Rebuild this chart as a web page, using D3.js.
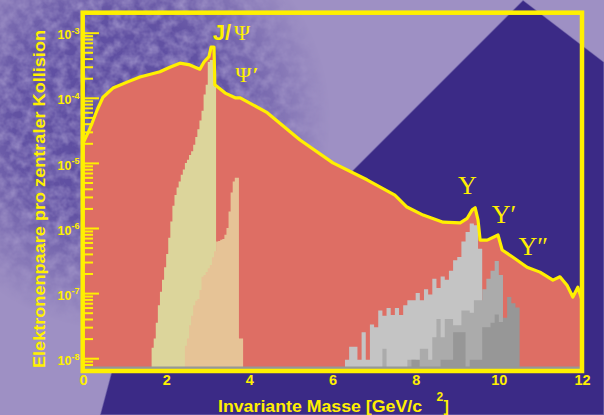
<!DOCTYPE html>
<html><head><meta charset="utf-8">
<script src="https://cdn.jsdelivr.net/npm/d3@7"></script>
<style>html,body{margin:0;padding:0;background:#9E90C4;} svg{display:block;}</style>
</head><body>
<svg id="chart" width="604" height="415"></svg>
<script>
// ---------- data ----------
const totalMass = [0.0,0.12,0.22,0.34,0.48,0.72,1.06,1.37,1.85,2.09,2.33,2.57,2.81,2.91,3.03,3.08,3.15,3.17,3.42,3.66,3.78,4.43,5.22,6.01,6.83,7.50,7.79,8.18,8.66,9.07,9.24,9.36,9.43,9.50,9.55,9.72,9.98,10.08,10.34,10.68,10.99,11.30,11.47,11.64,11.78,11.90,12.0];
const totalValue = [2.0e-5,2.9e-5,4.1e-5,6.5e-5,1.02e-4,1.41e-4,1.74e-4,2.09e-4,2.51e-4,2.95e-4,3.4e-4,3.2e-4,2.75e-4,3.55e-4,4.3e-4,6.0e-4,6.0e-4,1.58e-4,1.18e-4,1.0e-4,1.0e-4,5.9e-5,2.25e-5,1.0e-5,5.5e-6,3.2e-6,2.1e-6,1.58e-6,1.23e-6,1.2e-6,1.41e-6,1.9e-6,2.05e-6,1.32e-6,6.5e-7,6.5e-7,7.8e-7,4.6e-7,3.55e-7,2.5e-7,2.1e-7,1.58e-7,1.78e-7,1.32e-7,8.7e-8,1.23e-7,7.8e-8];

const psiBinWidth = 0.05;
const jpsiStart = 1.65;
const jpsiValues = [1.45e-8,2.0e-8,3.5e-8,6.5e-8,1.05e-7,1.6e-7,2.5e-7,4.0e-7,7.1e-7,1.26e-6,2.2e-6,3.2e-6,4.2e-6,5.2e-6,6.6e-6,7.9e-6,1.0e-5,1.12e-5,1.32e-5,1.51e-5,1.9e-5,2.5e-5,3.3e-5,4.5e-5,6.3e-5,1.12e-4,1.58e-4,3.55e-4,3.8e-4,3.8e-4,1.5e-4];
const psiPrimeStart = 2.45;
const psiPrimeValues = [1.55e-8,2.0e-8,3.2e-8,4.5e-8,6.5e-8,7.6e-8,8.1e-8,1.12e-7,1.78e-7,1.9e-7,2.1e-7,2.4e-7,2.7e-7,3.55e-7,4.4e-7,6.2e-7,6.3e-7,6.6e-7,6.8e-7,7.9e-7,1.0e-6,1.8e-6,3.5e-6,5.2e-6,5.9e-6,5.9e-6,2.0e-8,2.0e-8];

const upsBinWidth = 0.1;
const ups1Start = 6.3;
const ups1Values = [9.5e-9,1.5e-8,1.5e-8,9.5e-9,2.5e-8,9.5e-9,3.3e-8,3.0e-8,5.4e-8,4.5e-8,5.9e-8,4.6e-8,5.9e-8,4.6e-8,6.5e-8,7.8e-8,7.8e-8,1.0e-7,7.8e-8,1.15e-7,9.5e-8,1.66e-7,1.2e-7,1.8e-7,1.6e-7,2.2e-7,3.2e-7,3.6e-7,6.2e-7,8.7e-7,1.17e-6,1.1e-6,4.8e-7];
const ups2Start = 7.2;
const ups2Values = [1.4e-8,0,0,0,0,0,9.5e-9,9.5e-9,0,1.4e-8,1.4e-8,9.5e-9,2.1e-8,4.0e-8,2.1e-8,4.0e-8,4.0e-8,3.2e-8,3.2e-8,5.4e-8,5.4e-8,5.0e-8,7.8e-8,7.8e-8,1.15e-7,1.66e-7,2.2e-7,3.1e-7,1.9e-7];
const ups3Start = 7.9;
const ups3Values = [9.5e-9,9.5e-9,0,0,0,0,0,9.5e-9,9.5e-9,9.5e-9,2.5e-8,2.5e-8,2.5e-8,0,9.5e-9,9.5e-9,9.5e-9,3.0e-8,3.0e-8,3.5e-8,4.7e-8,3.6e-8,4.2e-8,8.7e-8,7.0e-8,6.0e-8];

const xTickValues = [0,2,4,6,8,10,12];
const yDecadeExponents = [-3,-4,-5,-6,-7,-8];
const xTitle = "Invariante Masse [GeV/c";
const xTitleSup = "2";
const yTitle = "Elektronenpaare pro zentraler Kollision";

// ---------- setup ----------
const svg = d3.select("#chart");
const YEL = "#FFF000";
const x = d3.scaleLinear().domain([0, 12]).range([83, 582]);
const y = d3.scaleLog().domain([1e-8, 1e-3]).range([358.2, 32.7]);
const plot = {left: 82.7, top: 12.7, right: 582, bottom: 371};
const yBase = plot.bottom;

const defs = svg.append("defs");
// background texture
const rg = defs.append("radialGradient").attr("id","blobGrad").attr("gradientUnits","userSpaceOnUse")
  .attr("cx",120).attr("cy",120).attr("r",210);
rg.append("stop").attr("offset","0").attr("stop-color","#fff").attr("stop-opacity",1);
rg.append("stop").attr("offset","0.5").attr("stop-color","#fff").attr("stop-opacity",0.9);
rg.append("stop").attr("offset","1").attr("stop-color","#fff").attr("stop-opacity",0);
defs.append("mask").attr("id","blobMask").append("rect").attr("width",604).attr("height",415).attr("fill","url(#blobGrad)");
const nf = defs.append("filter").attr("id","noise").attr("x",0).attr("y",0).attr("width","100%").attr("height","100%");
nf.append("feTurbulence").attr("type","fractalNoise").attr("baseFrequency","0.09").attr("numOctaves",3).attr("seed",7);
nf.append("feColorMatrix").attr("type","matrix")
  .attr("values","0 0 0 0 0.50  0 0 0 0 0.44  0 0 0 0 0.72  1.1 0 0 0 -0.35");
defs.append("clipPath").attr("id","plotClip").append("rect")
  .attr("x",plot.left).attr("y",plot.top).attr("width",plot.right-plot.left).attr("height",plot.bottom-plot.top);

// background
svg.append("rect").attr("width",604).attr("height",415).attr("fill","#9E90C4");
const blob = svg.append("g").attr("mask","url(#blobMask)");
blob.append("rect").attr("width",604).attr("height",415).attr("fill","#5B4B9F");
blob.append("rect").attr("width",604).attr("height",415).attr("filter","url(#noise)");
svg.append("polygon").attr("points","523,0 604,62 604,415 100,415 112,370 330,193")
  .attr("fill","#3B2A86").attr("stroke","#9C90C6").attr("stroke-opacity",0.5).attr("stroke-width",1.5);

// ---------- plot ----------
const g = svg.append("g").attr("clip-path","url(#plotClip)");
const totalPts = totalMass.map((m,i)=>({m, v: totalValue[i]}));
g.append("path").datum(totalPts).attr("fill","#DE6E64")
  .attr("d", d3.area().x(d=>x(d.m)).y0(yBase).y1(d=>y(d.v)));

function histPath(start, w, vals){
  const pts = vals.map((v,i)=>({m: start + i*w, v}));
  pts.push({m: start + vals.length*w, v: 0});
  return d3.area().x(d=>x(d.m)).y0(yBase).y1(d=> d.v>0 ? y(d.v) : yBase).curve(d3.curveStepAfter)(pts);
}
g.append("path").attr("fill","#DCD59B").attr("d", histPath(jpsiStart, psiBinWidth, jpsiValues));
g.append("path").attr("fill","#E6C396").attr("d", histPath(psiPrimeStart, psiBinWidth, psiPrimeValues));
g.append("path").attr("fill","#C4C4C4").attr("d", histPath(ups1Start, upsBinWidth, ups1Values));
g.append("path").attr("fill","#ABABAB").attr("d", histPath(ups2Start, upsBinWidth, ups2Values));
g.append("path").attr("fill","#979797").attr("d", histPath(ups3Start, upsBinWidth, ups3Values));
g.append("rect").attr("x",plot.left).attr("y",366.5).attr("width",plot.right-plot.left).attr("height",3).attr("fill","#949898");
g.append("path").datum(totalPts).attr("fill","none").attr("stroke",YEL).attr("stroke-width",3.2)
  .attr("stroke-linejoin","round")
  .attr("d", d3.line().x(d=>x(d.m)).y(d=>y(d.v)));

// ---------- axes ----------
const majors = yDecadeExponents.map(e=>Math.pow(10,e));
const minors = [];
yDecadeExponents.forEach(e=>{ for(let k=2;k<=9;k++){ const v=k*Math.pow(10,e-1); if (y(v) > plot.top+3 && y(v) < plot.bottom-3) minors.push(v);} });
const yMajorAxis = d3.axisLeft(y).tickValues(majors).tickSize(-16).tickFormat("");
const yMinorAxis = d3.axisLeft(y).tickValues(minors).tickSize(-10).tickFormat("");
[yMajorAxis, yMinorAxis].forEach(ax=>{
  const a = svg.append("g").attr("transform","translate(83,0)").call(ax);
  a.select(".domain").remove();
  a.selectAll("line").attr("stroke",YEL).attr("stroke-width",2);
});
const yl = svg.append("g").attr("font-family","'Liberation Sans', Arial, sans-serif").attr("font-weight","bold").attr("fill",YEL);
yDecadeExponents.forEach(e=>{
  const t = yl.append("text").attr("x",79.5).attr("y",y(Math.pow(10,e))+6.6).attr("text-anchor","end");
  t.append("tspan").attr("font-size",12.5).text("10");
  t.append("tspan").attr("font-size",9).attr("dy",-5.3).text(String(e));
});

const xAxis = d3.axisBottom(x).tickValues(xTickValues).tickSize(0).tickFormat(d3.format("d"));
const xa = svg.append("g").attr("transform",`translate(0,${plot.bottom})`).call(xAxis);
xa.select(".domain").remove();
xa.selectAll("text").attr("fill",YEL).attr("font-size",14.5).attr("font-weight","bold")
  .attr("font-family","'Liberation Sans', Arial, sans-serif").attr("dy",null).attr("y",14);

// frame
svg.append("rect").attr("x",plot.left).attr("y",plot.top).attr("width",plot.right-plot.left).attr("height",plot.bottom-plot.top)
  .attr("fill","none").attr("stroke",YEL).attr("stroke-width",4.5);

// titles
const tf = "'Liberation Sans', Arial, sans-serif";
svg.append("text").attr("x",218).attr("y",411.5).attr("fill",YEL).attr("font-family",tf).attr("font-weight","bold")
  .attr("font-size",16).attr("textLength",204).attr("lengthAdjust","spacingAndGlyphs").text(xTitle);
svg.append("text").attr("x",436.5).attr("y",401).attr("fill",YEL).attr("font-family",tf).attr("font-weight","bold")
  .attr("font-size",12).text(xTitleSup);
svg.append("text").attr("x",443.5).attr("y",411.5).attr("fill",YEL).attr("font-family",tf).attr("font-weight","bold")
  .attr("font-size",16).text("]");
svg.append("text").attr("transform","translate(45,199) rotate(-90)").attr("text-anchor","middle")
  .attr("fill",YEL).attr("font-family",tf).attr("font-weight","bold").attr("font-size",17)
  .attr("textLength",338).attr("lengthAdjust","spacingAndGlyphs").text(yTitle);

// peak annotations
const serif = "'Liberation Serif', 'Times New Roman', serif";
const jl = svg.append("text").attr("x",x(3.12)).attr("y",y(Math.pow(10,-3.11))).attr("fill",YEL);
jl.append("tspan").attr("font-family",tf).attr("font-weight","bold").attr("font-size",22).text("J/");
jl.append("tspan").attr("font-family",serif).attr("font-size",22).attr("dx",3).text("Ψ");
const pp = svg.append("text").attr("x",x(3.66)).attr("y",y(Math.pow(10,-3.76))).attr("fill",YEL);
pp.append("tspan").attr("font-family",serif).attr("font-size",22).text("Ψ");
pp.append("tspan").attr("font-family",serif).attr("font-weight","bold").attr("font-size",22).attr("dx",1).text("′");
[["Υ", 9.02, -5.48],["Υ′", 9.83, -5.93],["Υ″", 10.47, -6.42]].forEach(([s,m,l])=>{
  svg.append("text").attr("x",x(m)).attr("y",y(Math.pow(10,l))).attr("fill",YEL)
    .attr("font-family",serif).attr("font-size",26).attr("font-weight", "normal").text(s);
});
</script>
</body></html>
